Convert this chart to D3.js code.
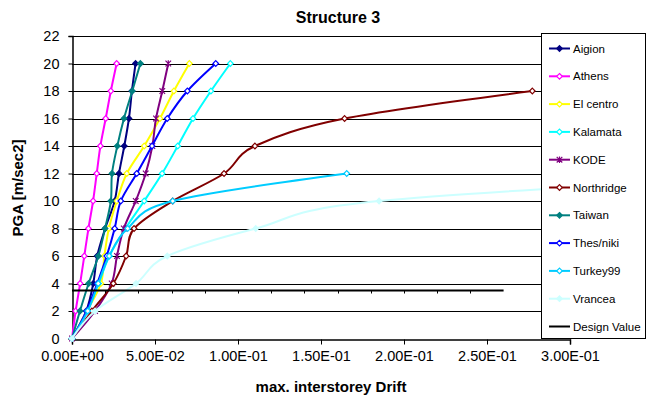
<!DOCTYPE html>
<html>
<head>
<meta charset="utf-8">
<script src="https://cdn.jsdelivr.net/npm/d3@7"></script>
<style>
  body { margin: 0; background: #fff; }
  svg text { font-family: "Liberation Sans", Arial, sans-serif; }
</style>
</head>
<body>
<div id="chart"></div>
<script>
// PGA levels (y values) shared by the series
var pgaLevels = [0, 2, 4, 6, 8, 10, 12, 14, 16, 18, 20];

// drift values per record, one per PGA level
var aigion     = [0, 0.0086, 0.0128, 0.0152, 0.0200, 0.0257, 0.0283, 0.0315, 0.0343, 0.0361, 0.0383];
var athens     = [0, 0.0022, 0.0049, 0.0074, 0.0099, 0.0127, 0.0149, 0.0171, 0.0203, 0.0234, 0.0269];
var elCentro   = [0, 0.0090, 0.0174, 0.0195, 0.0222, 0.0270, 0.0330, 0.0435, 0.0530, 0.0614, 0.0707];
var kalamata   = [0, 0.0092, 0.0160, 0.0225, 0.0322, 0.0435, 0.0543, 0.0637, 0.0729, 0.0837, 0.0954];
var kode       = [0, 0.0139, 0.0239, 0.0271, 0.0312, 0.0384, 0.0444, 0.0484, 0.0506, 0.0544, 0.0580];
var northridge = [0, 0.0120, 0.0249, 0.0326, 0.0374, 0.0607, 0.0916, 0.1102, 0.1642, 0.2773];
var taiwan     = [0, 0.0048, 0.0100, 0.0159, 0.0199, 0.0234, 0.0241, 0.0273, 0.0313, 0.0363, 0.0412];
var thesniki   = [0, 0.0088, 0.0152, 0.0209, 0.0257, 0.0294, 0.0390, 0.0482, 0.0574, 0.0695, 0.0866];
var turkey99   = [0, 0.0095, 0.0158, 0.0224, 0.0335, 0.0607, 0.1655];
var vrancea    = [0, 0.0139, 0.0386, 0.0574, 0.1107, 0.1850, 0.4500];

// design value line
var designValue = 3.5;
var designX = [0, 0.26];
var designTicks = [0.02, 0.04, 0.06, 0.08, 0.10, 0.12, 0.14, 0.16, 0.18, 0.20, 0.22, 0.24];

// axis ticks
var xTicks = [0, 0.05, 0.10, 0.15, 0.20, 0.25, 0.30];
var yTicks = [0, 2, 4, 6, 8, 10, 12, 14, 16, 18, 20, 22];

var series = [
  {name: "Aigion",     values: aigion,     color: "#000080", marker: "diamond", fill: "#000080"},
  {name: "Athens",     values: athens,     color: "#FF00FF", marker: "diamond", fill: "#fff"},
  {name: "El centro",  values: elCentro,   color: "#FFFF00", marker: "diamond", fill: "#fff"},
  {name: "Kalamata",   values: kalamata,   color: "#00FFFF", marker: "diamond", fill: "#fff"},
  {name: "KODE",       values: kode,       color: "#800080", marker: "star",    fill: "none"},
  {name: "Northridge", values: northridge, color: "#800000", marker: "diamond", fill: "#fff"},
  {name: "Taiwan",     values: taiwan,     color: "#008080", marker: "diamond", fill: "#008080"},
  {name: "Thes/niki",  values: thesniki,   color: "#0000FF", marker: "diamond", fill: "#fff"},
  {name: "Turkey99",   values: turkey99,   color: "#00CCFF", marker: "diamond", fill: "#fff"},
  {name: "Vrancea",    values: vrancea,    color: "#CCFFFF", marker: "diamond", fill: "#CCFFFF"}
];

var width = 652, height = 403;
var margin = {top: 36, left: 72, right: 82, bottom: 64};
var plotW = 570 - margin.left, plotH = 338.5 - margin.top;

var svg = d3.select("#chart").append("svg")
  .attr("width", width)
  .attr("height", height);

var x = d3.scaleLinear().domain([0, 0.3]).range([margin.left, margin.left + plotW]);
var y = d3.scaleLinear().domain([0, 22]).range([margin.top + plotH, margin.top]);

svg.append("defs").append("clipPath").attr("id", "plotclip")
  .append("rect")
  .attr("x", margin.left - 4).attr("y", margin.top - 5)
  .attr("width", plotW + 4).attr("height", plotH + 9);

// gridlines
svg.append("g")
  .selectAll("line")
  .data(yTicks.slice(1))
  .enter().append("line")
  .attr("x1", margin.left).attr("x2", margin.left + plotW)
  .attr("y1", function(d) { return Math.round(y(d)) + 0.5; })
  .attr("y2", function(d) { return Math.round(y(d)) + 0.5; })
  .attr("stroke", "#000").attr("stroke-width", 1);

// axes
var xAxis = svg.append("g")
  .attr("transform", "translate(0," + (Math.round(y(0)) + 0.5) + ")")
  .call(d3.axisBottom(x).tickValues(xTicks).tickSize(5).tickPadding(6)
    .tickFormat(function(d) { return d.toExponential(2).replace("e", "E").replace(/E([+-])(\d)$/, "E$10$2"); }));
xAxis.select(".domain").attr("stroke", "#000").attr("stroke-width", 1.5);
xAxis.selectAll("text").attr("font-size", "14.5px").attr("fill", "#000");

var yAxis = svg.append("g")
  .attr("transform", "translate(" + (margin.left + 0.5) + ",0)")
  .call(d3.axisLeft(y).tickValues(yTicks).tickSize(4).tickPadding(9));
yAxis.select(".domain").attr("stroke", "#000").attr("stroke-width", 1.5);
yAxis.selectAll("text").attr("font-size", "14.5px").attr("fill", "#000");

// series lines
var line = d3.line()
  .x(function(d) { return x(d[0]); })
  .y(function(d) { return y(d[1]); })
  .curve(d3.curveCatmullRom.alpha(0));

var plot = svg.append("g").attr("clip-path", "url(#plotclip)");

function drawMarker(g, type, cx, cy, color, fill) {
  if (type === "star") {
    var r = 2.8;
    g.append("path")
      .attr("d", "M" + (cx - r) + "," + (cy - r) + "L" + (cx + r) + "," + (cy + r) +
                 "M" + (cx - r) + "," + (cy + r) + "L" + (cx + r) + "," + (cy - r) +
                 "M" + cx + "," + (cy - r - 0.5) + "L" + cx + "," + (cy + r + 0.5))
      .attr("stroke", color).attr("stroke-width", 1.2).attr("fill", "none");
  } else {
    var s = 2.8;
    g.append("path")
      .attr("d", "M" + cx + "," + (cy - s) + "L" + (cx + s) + "," + cy + "L" + cx + "," + (cy + s) + "L" + (cx - s) + "," + cy + "Z")
      .attr("stroke", color).attr("stroke-width", 1.2).attr("fill", fill);
  }
}

series.forEach(function(s) {
  var pts = s.values.map(function(v, i) { return [v, pgaLevels[i]]; });
  plot.append("path")
    .datum(pts)
    .attr("d", line)
    .attr("fill", "none")
    .attr("stroke", s.color)
    .attr("stroke-width", 2);
  var mg = plot.append("g");
  pts.forEach(function(p) {
    if (p[0] <= 0.3) drawMarker(mg, s.marker, x(p[0]), y(p[1]), s.color, s.fill);
  });
});

// design value
var dy = Math.round(y(designValue)) + 0.5;
plot.append("line")
  .attr("x1", x(designX[0])).attr("x2", x(designX[1]))
  .attr("y1", dy).attr("y2", dy)
  .attr("stroke", "#000").attr("stroke-width", 2);
plot.append("g").selectAll("line")
  .data(designTicks)
  .enter().append("line")
  .attr("x1", function(d) { return Math.round(x(d)) + 0.5; })
  .attr("x2", function(d) { return Math.round(x(d)) + 0.5; })
  .attr("y1", dy).attr("y2", dy + 3)
  .attr("stroke", "#000").attr("stroke-width", 1);

// title and axis labels
svg.append("text")
  .attr("x", 338).attr("y", 23)
  .attr("text-anchor", "middle")
  .attr("font-size", "16px").attr("font-weight", "bold")
  .text("Structure 3");

svg.append("text")
  .attr("transform", "translate(23," + 188 + ") rotate(-90)")
  .attr("text-anchor", "middle")
  .attr("font-size", "15px").attr("font-weight", "bold")
  .text("PGA [m/sec2]");

svg.append("text")
  .attr("x", 331).attr("y", 392)
  .attr("text-anchor", "middle")
  .attr("font-size", "15px").attr("font-weight", "bold")
  .text("max. interstorey Drift");

// legend
var legendItems = series.map(function(s) { return s; })
  .concat([{name: "Design Value", color: "#000", marker: "none"}]);

var legend = svg.append("g");
legend.append("rect")
  .attr("x", 541.5).attr("y", 33.5)
  .attr("width", 104).attr("height", 305)
  .attr("fill", "#fff").attr("stroke", "#000").attr("stroke-width", 1);

legendItems.forEach(function(s, i) {
  var ly = 48.5 + i * 27.8;
  legend.append("line")
    .attr("x1", 549).attr("x2", 570)
    .attr("y1", ly).attr("y2", ly)
    .attr("stroke", s.color).attr("stroke-width", 2);
  if (s.marker !== "none") drawMarker(legend, s.marker, 559.5, ly, s.color, s.fill);
  legend.append("text")
    .attr("x", 573).attr("y", ly + 4)
    .attr("font-size", "11.5px")
    .text(s.name);
});
</script>
</body>
</html>
